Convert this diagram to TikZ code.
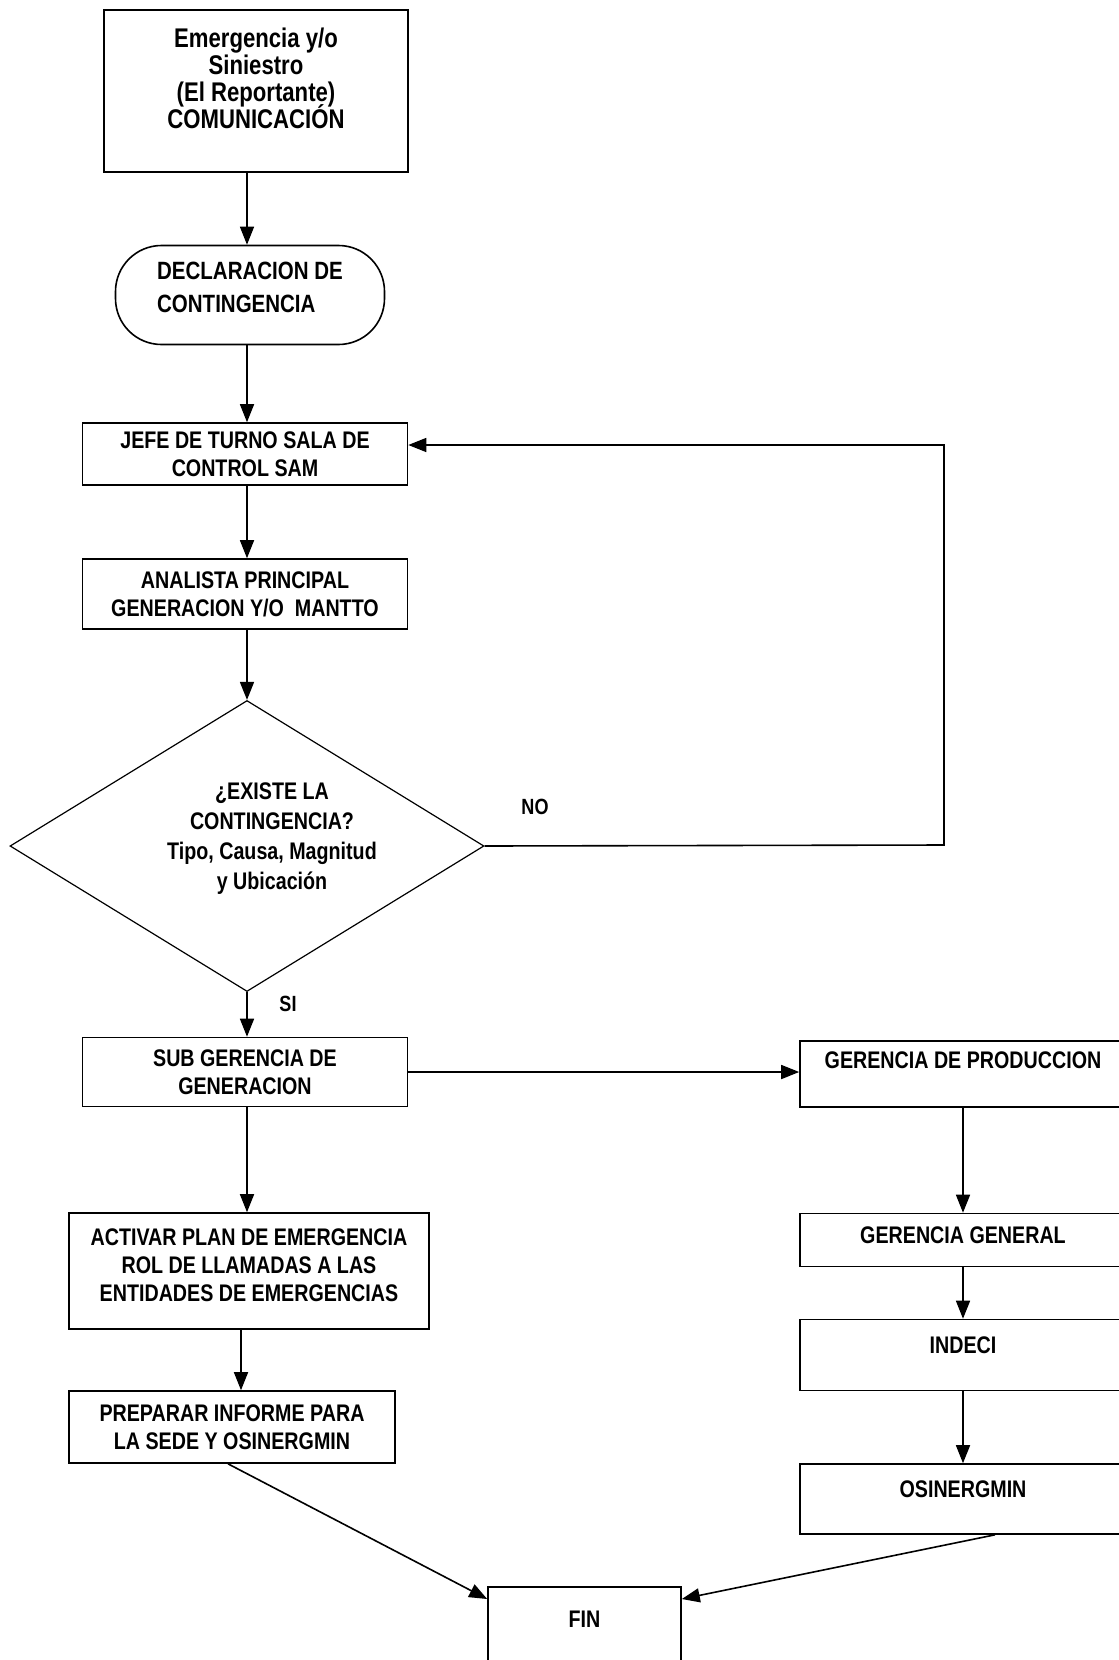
\documentclass[tikz,border=0pt]{standalone}
\usepackage{fontspec}
\setmainfont{Liberation Sans}[FakeStretch=0.82]
\usetikzlibrary{shapes.geometric,arrows.meta}

\begin{document}
\begin{tikzpicture}[
    x=1pt, y=-1pt,
    caja/.style={rectangle, draw=black, line width=1.6pt, minimum width=325pt, align=center, inner sep=0pt, font=\bfseries\fontsize{24}{28}\selectfont},
    inicio/.style={rectangle, draw=black, line width=1.6pt, rounded corners=46pt, minimum width=269pt, minimum height=99pt, align=left, inner sep=0pt, font=\bfseries\fontsize{25}{33}\selectfont},
    decision/.style={diamond, draw=black, line width=1.2pt, minimum width=474pt, minimum height=291pt, aspect=1.63, inner sep=0pt},
    pregunta/.style={align=center, inner sep=0pt, font=\bfseries\fontsize{24}{30}\selectfont},
    flecha/.style={-{Triangle[length=18pt,width=14pt]}, line width=1.6pt},
    etiqueta/.style={font=\bfseries\fontsize{22}{26}\selectfont},
]
\useasboundingbox (0,0) rectangle (1119,1660);

\node[caja, minimum width=304pt, minimum height=162pt, text depth=26pt, font={\bfseries\fontsize{27}{27}\selectfont\lineskiplimit-20pt}] (reporte) at (256,91) {Emergencia y/o\\Siniestro\\(El Reportante)\\COMUNICACIÓN};
\node[inicio, text depth=15pt] (decl) at (250,295) {DECLARACION DE\\CONTINGENCIA};
\node[caja, minimum height=62pt] (jefe) at (245,454) {JEFE DE TURNO SALA DE\\CONTROL SAM};
\node[caja, minimum height=70pt] (analista) at (245,594) {ANALISTA PRINCIPAL\\GENERACION Y/O\ \ MANTTO};
\node[decision] (existe) at (247,846) {};
\node[pregunta] (existe-texto) at ([xshift=25pt,yshift=7pt]existe.center) {¿EXISTE LA\\CONTINGENCIA?\\Tipo, Causa, Magnitud\\y Ubicación};
\node[caja, minimum height=69pt] (subgen) at (245,1072) {SUB GERENCIA DE\\GENERACION};
\node[caja, minimum width=360pt, minimum height=116pt, text depth=11pt] (activar) at (249,1271) {ACTIVAR PLAN DE EMERGENCIA\\ROL DE LLAMADAS A LAS\\ENTIDADES DE EMERGENCIAS};
\node[caja, minimum width=326pt, minimum height=72pt] (informe) at (232,1427) {PREPARAR INFORME PARA\\LA SEDE Y OSINERGMIN};

\node[caja, minimum width=326pt, minimum height=66pt, text depth=28pt] (produccion) at (963,1074) {GERENCIA DE PRODUCCION};
\node[caja, minimum width=326pt, minimum height=53pt, text depth=10pt] (general) at (963,1240) {GERENCIA GENERAL};
\node[caja, minimum width=326pt, minimum height=71pt, text depth=20pt] (indeci) at (963,1355) {INDECI};
\node[caja, minimum width=326pt, minimum height=70pt, text depth=20pt] (osin) at (963,1499) {OSINERGMIN};
\node[caja, minimum width=193pt, minimum height=90pt, text depth=26pt] (fin) at (584.5,1632) {FIN};

\node[etiqueta] (no) at (535,807) {NO};
\node[etiqueta] (si) at (288,1004) {SI};
\coordinate (retorno) at (944,845);

\draw[flecha] (reporte.south -| existe) -- (decl.north -| existe);
\draw[flecha] (decl.south -| existe) -- (jefe.north -| existe);
\draw[flecha] (jefe.south -| existe) -- (analista.north -| existe);
\draw[flecha] (analista.south -| existe) -- (existe);
\draw[flecha] (existe.east) -- (retorno) |- ([yshift=9pt]jefe.east);
\draw[flecha] (existe) -- (subgen.north -| existe);
\draw[flecha] (subgen.east) -- (subgen.east -| produccion.west);
\draw[flecha] (subgen.south -| existe) -- (activar.north -| existe);
\draw[flecha] ([xshift=-8pt]activar.south) -- ([xshift=-8pt]activar.south |- informe.north);
\draw[flecha] (produccion) -- (general);
\draw[flecha] (general) -- (indeci);
\draw[flecha] (indeci) -- (osin);
\draw[flecha] ([xshift=-4pt]informe.south) -- ([yshift=33pt]fin.west);
\draw[flecha] ([xshift=32pt]osin.south) -- ([yshift=33pt]fin.east);

\end{tikzpicture}
\end{document}
